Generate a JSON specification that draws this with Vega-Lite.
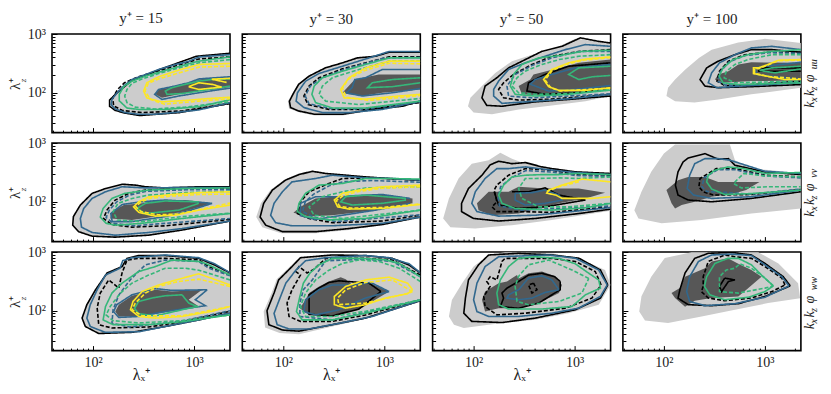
{"$schema":"https://vega.github.io/schema/vega-lite/v6.json","padding":{"left":6,"top":10,"right":0,"bottom":0},"background":"white","config":{"view":{"stroke":"black","strokeWidth":1.6},"axis":{"grid":false,"domain":false,"labelFont":"Liberation Serif","titleFont":"Liberation Serif","labelFontSize":14,"titleFontSize":15,"titleFontWeight":"normal","labelColor":"#222","titleColor":"#222","tickColor":"black","labelOverlap":false,"labelBound":false,"labelFlush":false,"tickCount":10},"title":{"font":"Liberation Serif","fontSize":15,"fontWeight":"normal","color":"#222"},"text":{"font":"Liberation Serif","fontStyle":"italic","color":"#222"}},
"datasets":{
"Z":[{"t":"z","x":20.5,"y":161}],
"RU":[{"t":"k","b":"m","x":2790,"y":63},{"t":"x","b":"s","x":3060,"y":77},{"t":"k","b":"m","x":2790,"y":100},{"t":"z","b":"s","x":3060,"y":118},{"t":"φ","b":"m","x":2790,"y":175},{"t":"uu","b":"s","x":3060,"y":306}],
"RV":[{"t":"k","b":"m","x":2790,"y":63},{"t":"x","b":"s","x":3060,"y":77},{"t":"k","b":"m","x":2790,"y":100},{"t":"z","b":"s","x":3060,"y":118},{"t":"φ","b":"m","x":2790,"y":175},{"t":"vv","b":"s","x":3060,"y":306}],
"RW":[{"t":"k","b":"m","x":2790,"y":55},{"t":"x","b":"s","x":3060,"y":66},{"t":"k","b":"m","x":2790,"y":87},{"t":"z","b":"s","x":3060,"y":103},{"t":"φ","b":"m","x":2790,"y":155},{"t":"ww","b":"s","x":3060,"y":290}],
"P11":[{"s":"L","x":2270,"y":447},{"s":"L","x":1115,"y":407},{"s":"L","x":886,"y":343},{"s":"L","x":654,"y":302},{"s":"L","x":447,"y":249},{"s":"L","x":330,"y":204},{"s":"L","x":243,"y":168},{"s":"L","x":201,"y":130},{"s":"L","x":173,"y":100},{"s":"L","x":154,"y":77},{"s":"L","x":151,"y":63},{"s":"L","x":166,"y":53},{"s":"L","x":209,"y":46},{"s":"L","x":283,"y":43},{"s":"L","x":414,"y":43},{"s":"L","x":706,"y":47},{"s":"L","x":1115,"y":51},{"s":"L","x":2270,"y":68},
{"s":"D","x":2270,"y":180},{"s":"D","x":1760,"y":180},{"s":"D","x":1200,"y":172},{"s":"D","x":885,"y":148},{"s":"D","x":652,"y":127},{"s":"D","x":447,"y":114},{"s":"D","x":415,"y":94},{"s":"D","x":481,"y":82},{"s":"D","x":705,"y":94},{"s":"D","x":1115,"y":107},{"s":"D","x":1760,"y":116},{"s":"D","x":2270,"y":125},
{"s":"K","x":2270,"y":470},{"s":"K","x":1055,"y":418},{"s":"K","x":457,"y":249},{"s":"K","x":240,"y":160},{"s":"K","x":170,"y":97},{"s":"K","x":146,"y":75},{"s":"K","x":146,"y":59},{"s":"K","x":166,"y":50},{"s":"K","x":209,"y":45},{"s":"K","x":290,"y":41},{"s":"K","x":720,"y":46},{"s":"K","x":2270,"y":66},
{"s":"k","x":2270,"y":408},{"s":"k","x":1115,"y":375},{"s":"k","x":520,"y":255},{"s":"k","x":280,"y":187},{"s":"k","x":205,"y":148},{"s":"k","x":175,"y":114},{"s":"k","x":157,"y":82},{"s":"k","x":160,"y":60},{"s":"k","x":195,"y":50},{"s":"k","x":305,"y":46},{"s":"k","x":760,"y":49},{"s":"k","x":2270,"y":66},
{"s":"B","x":2270,"y":447},{"s":"B","x":1115,"y":407},{"s":"B","x":886,"y":343},{"s":"B","x":654,"y":302},{"s":"B","x":447,"y":249},{"s":"B","x":330,"y":204},{"s":"B","x":243,"y":168},{"s":"B","x":201,"y":130},{"s":"B","x":173,"y":100},{"s":"B","x":154,"y":77},{"s":"B","x":151,"y":63},{"s":"B","x":166,"y":53},{"s":"B","x":209,"y":46},{"s":"B","x":283,"y":43},{"s":"B","x":414,"y":43},{"s":"B","x":706,"y":47},{"s":"B","x":1115,"y":51},{"s":"B","x":2270,"y":68},
{"s":"B","p":2,"x":2270,"y":187},{"s":"B","p":2,"x":1600,"y":180},{"s":"B","p":2,"x":1115,"y":172},{"s":"B","p":2,"x":885,"y":148},{"s":"B","p":2,"x":605,"y":127},{"s":"B","p":2,"x":447,"y":114},{"s":"B","p":2,"x":408,"y":94},{"s":"B","p":2,"x":481,"y":77},{"s":"B","p":2,"x":705,"y":88},{"s":"B","p":2,"x":1115,"y":100},{"s":"B","p":2,"x":1600,"y":110},{"s":"B","p":2,"x":2270,"y":120},
{"s":"G","x":2270,"y":408},{"s":"G","x":1115,"y":345},{"s":"G","x":820,"y":300},{"s":"G","x":520,"y":240},{"s":"G","x":330,"y":192},{"s":"G","x":243,"y":158},{"s":"G","x":201,"y":127},{"s":"G","x":182,"y":94},{"s":"G","x":182,"y":73},{"s":"G","x":217,"y":55},{"s":"G","x":285,"y":52},{"s":"G","x":520,"y":52},{"s":"G","x":1115,"y":58},{"s":"G","x":2270,"y":76},
{"s":"G","p":2,"x":2270,"y":172},{"s":"G","p":2,"x":1510,"y":168},{"s":"G","p":2,"x":1115,"y":158},{"s":"G","p":2,"x":820,"y":139},{"s":"G","p":2,"x":605,"y":122},{"s":"G","p":2,"x":520,"y":107},{"s":"G","p":2,"x":540,"y":94},{"s":"G","p":2,"x":760,"y":97},{"s":"G","p":2,"x":1115,"y":107},{"s":"G","p":2,"x":1800,"y":122},{"s":"G","p":2,"x":2270,"y":130},
{"s":"g","x":2270,"y":367},{"s":"g","x":1115,"y":323},{"s":"g","x":705,"y":265},{"s":"g","x":447,"y":212},{"s":"g","x":306,"y":172},{"s":"g","x":243,"y":145},{"s":"g","x":217,"y":114},{"s":"g","x":206,"y":88},{"s":"g","x":217,"y":68},{"s":"g","x":262,"y":57},{"s":"g","x":415,"y":53},{"s":"g","x":820,"y":57},{"s":"g","x":2270,"y":70},
{"s":"Y","x":2270,"y":315},{"s":"Y","x":1115,"y":303},{"s":"Y","x":705,"y":243},{"s":"Y","x":447,"y":187},{"s":"Y","x":341,"y":148},{"s":"Y","x":317,"y":107},{"s":"Y","x":341,"y":82},{"s":"Y","x":481,"y":70},{"s":"Y","x":820,"y":74},{"s":"Y","x":1300,"y":79},{"s":"Y","x":2270,"y":84},
{"s":"Y","p":2,"x":885,"y":127},{"s":"Y","p":2,"x":1115,"y":148},{"s":"Y","p":2,"x":1510,"y":139},{"s":"Y","p":2,"x":1880,"y":125},{"s":"Y","p":2,"x":1115,"y":114},{"s":"Y","p":2,"x":885,"y":127},
{"s":"Y","p":3,"x":2270,"y":176},{"s":"Y","p":3,"x":1500,"y":170},{"s":"Y","p":3,"x":2100,"y":150},
{"s":"y","x":2270,"y":283},{"s":"y","x":1115,"y":273},{"s":"y","x":447,"y":172},{"s":"y","x":353,"y":145},{"s":"y","x":327,"y":107},{"s":"y","x":370,"y":77},{"s":"y","x":510,"y":64},{"s":"y","x":1115,"y":72},{"s":"y","x":2270,"y":79}],
"P12":[{"s":"L","x":2270,"y":495},{"s":"L","x":1115,"y":495},{"s":"L","x":820,"y":422},{"s":"L","x":540,"y":396},{"s":"L","x":385,"y":327},{"s":"L","x":262,"y":270},{"s":"L","x":178,"y":195},{"s":"L","x":140,"y":141},{"s":"L","x":124,"y":100},{"s":"L","x":111,"y":71},{"s":"L","x":114,"y":54},{"s":"L","x":140,"y":47},{"s":"L","x":205,"y":41},{"s":"L","x":385,"y":41},{"s":"L","x":820,"y":51},{"s":"L","x":1510,"y":58},{"s":"L","x":2270,"y":71},
{"s":"D","x":2270,"y":204},{"s":"D","x":1400,"y":204},{"s":"D","x":880,"y":204},{"s":"D","x":510,"y":168},{"s":"D","x":385,"y":100},{"s":"D","x":447,"y":94},{"s":"D","x":605,"y":88},{"s":"D","x":955,"y":100},{"s":"D","x":2270,"y":114},
{"s":"K","x":2270,"y":490},{"s":"K","x":1115,"y":490},{"s":"K","x":820,"y":418},{"s":"K","x":540,"y":392},{"s":"K","x":385,"y":323},{"s":"K","x":262,"y":266},{"s":"K","x":180,"y":192},{"s":"K","x":142,"y":139},{"s":"K","x":127,"y":100},{"s":"K","x":115,"y":72},{"s":"K","x":118,"y":56},{"s":"K","x":142,"y":49},{"s":"K","x":205,"y":43},{"s":"K","x":385,"y":43},{"s":"K","x":820,"y":53},{"s":"K","x":1510,"y":59},{"s":"K","x":2270,"y":72},
{"s":"k","x":2270,"y":408},{"s":"k","x":1115,"y":408},{"s":"k","x":652,"y":323},{"s":"k","x":385,"y":255},{"s":"k","x":226,"y":180},{"s":"k","x":180,"y":130},{"s":"k","x":160,"y":88},{"s":"k","x":176,"y":63},{"s":"k","x":284,"y":52},{"s":"k","x":652,"y":52},{"s":"k","x":2270,"y":68},
{"s":"B","x":2270,"y":505},{"s":"B","x":1115,"y":505},{"s":"B","x":760,"y":408},{"s":"B","x":385,"y":283},{"s":"B","x":226,"y":213},{"s":"B","x":166,"y":157},{"s":"B","x":138,"y":100},{"s":"B","x":134,"y":72},{"s":"B","x":160,"y":56},{"s":"B","x":244,"y":46},{"s":"B","x":447,"y":46},{"s":"B","x":955,"y":52},{"s":"B","x":2270,"y":72},
{"s":"B","p":2,"x":2270,"y":249},{"s":"B","p":2,"x":955,"y":249},{"s":"B","p":2,"x":652,"y":180},{"s":"B","p":2,"x":510,"y":168},{"s":"B","p":2,"x":480,"y":122},{"s":"B","p":2,"x":420,"y":100},{"s":"B","p":2,"x":605,"y":88},{"s":"B","p":2,"x":1200,"y":100},{"s":"B","p":2,"x":2270,"y":118},
{"s":"b","x":2270,"y":400},{"s":"b","x":1000,"y":390},{"s":"b","x":400,"y":250},{"s":"b","x":240,"y":178},{"s":"b","x":185,"y":130},{"s":"b","x":165,"y":88},{"s":"b","x":180,"y":65},{"s":"b","x":290,"y":54},{"s":"b","x":660,"y":53},{"s":"b","x":2270,"y":70},
{"s":"G","x":2270,"y":392},{"s":"G","x":1115,"y":392},{"s":"G","x":652,"y":303},{"s":"G","x":385,"y":233},{"s":"G","x":244,"y":180},{"s":"G","x":202,"y":130},{"s":"G","x":192,"y":94},{"s":"G","x":209,"y":68},{"s":"G","x":307,"y":55},{"s":"G","x":652,"y":55},{"s":"G","x":2270,"y":72},
{"s":"G","p":2,"x":2270,"y":180},{"s":"G","p":2,"x":1200,"y":168},{"s":"G","p":2,"x":760,"y":148},{"s":"G","p":2,"x":680,"y":122},{"s":"G","p":2,"x":1200,"y":127},{"s":"G","p":2,"x":2270,"y":148},
{"s":"g","x":2270,"y":345},{"s":"g","x":1115,"y":345},{"s":"g","x":560,"y":249},{"s":"g","x":306,"y":180},{"s":"g","x":244,"y":130},{"s":"g","x":226,"y":94},{"s":"g","x":263,"y":72},{"s":"g","x":560,"y":63},{"s":"g","x":2270,"y":80},
{"s":"Y","x":2270,"y":345},{"s":"Y","x":1115,"y":345},{"s":"Y","x":652,"y":265},{"s":"Y","x":447,"y":180},{"s":"Y","x":370,"y":114},{"s":"Y","x":400,"y":82},{"s":"Y","x":652,"y":78},{"s":"Y","x":1400,"y":88},{"s":"Y","x":2270,"y":94},
{"s":"y","x":2270,"y":310},{"s":"y","x":1115,"y":318},{"s":"y","x":620,"y":235},{"s":"y","x":440,"y":170},{"s":"y","x":385,"y":120},{"s":"y","x":420,"y":84},{"s":"y","x":700,"y":74},{"s":"y","x":2270,"y":90}],
"P13":[{"s":"L","x":2270,"y":702},{"s":"L","x":1015,"y":830},{"s":"L","x":595,"y":542},{"s":"L","x":378,"y":445},{"s":"L","x":240,"y":345},{"s":"L","x":164,"y":218},{"s":"L","x":121,"y":130},{"s":"L","x":93,"y":82},{"s":"L","x":88,"y":59},{"s":"L","x":100,"y":46},{"s":"L","x":152,"y":43},{"s":"L","x":279,"y":52},{"s":"L","x":595,"y":61},{"s":"L","x":1280,"y":72},{"s":"L","x":2270,"y":88},
{"s":"D","x":2270,"y":367},{"s":"D","x":1100,"y":323},{"s":"D","x":700,"y":265},{"s":"D","x":392,"y":205},{"s":"D","x":364,"y":168},{"s":"D","x":279,"y":130},{"s":"D","x":301,"y":94},{"s":"D","x":595,"y":88},{"s":"D","x":1280,"y":100},{"s":"D","x":2270,"y":122},
{"s":"K","x":2270,"y":702},{"s":"K","x":1730,"y":750},{"s":"K","x":1140,"y":860},{"s":"K","x":750,"y":617},{"s":"K","x":475,"y":508},{"s":"K","x":325,"y":367},{"s":"K","x":222,"y":265},{"s":"K","x":170,"y":180},{"s":"K","x":130,"y":130},{"s":"K","x":121,"y":82},{"s":"K","x":135,"y":61},{"s":"K","x":191,"y":59},{"s":"K","x":408,"y":70},{"s":"K","x":873,"y":77},{"s":"K","x":2270,"y":88},
{"s":"K","p":2,"x":2270,"y":323},{"s":"K","p":2,"x":873,"y":283},{"s":"K","p":2,"x":510,"y":205},{"s":"K","p":2,"x":350,"y":148},{"s":"K","p":2,"x":337,"y":107},{"s":"K","p":2,"x":510,"y":94},{"s":"K","p":2,"x":1100,"y":100},{"s":"K","p":2,"x":2270,"y":122},
{"s":"k","x":2270,"y":542},{"s":"k","x":1100,"y":505},{"s":"k","x":595,"y":418},{"s":"k","x":378,"y":303},{"s":"k","x":249,"y":205},{"s":"k","x":198,"y":148},{"s":"k","x":177,"y":114},{"s":"k","x":198,"y":82},{"s":"k","x":279,"y":75},{"s":"k","x":595,"y":78},{"s":"k","x":2270,"y":94},
{"s":"B","x":2270,"y":617},{"s":"B","x":1280,"y":660},{"s":"B","x":808,"y":542},{"s":"B","x":510,"y":418},{"s":"B","x":325,"y":323},{"s":"B","x":222,"y":249},{"s":"B","x":177,"y":158},{"s":"B","x":158,"y":114},{"s":"B","x":158,"y":88},{"s":"B","x":191,"y":66},{"s":"B","x":408,"y":72},{"s":"B","x":873,"y":79},{"s":"B","x":2270,"y":94},
{"s":"B","p":2,"x":2270,"y":303},{"s":"B","p":2,"x":1015,"y":265},{"s":"B","p":2,"x":595,"y":205},{"s":"B","p":2,"x":408,"y":168},{"s":"B","p":2,"x":364,"y":140},{"s":"B","p":2,"x":553,"y":107},{"s":"B","p":2,"x":1015,"y":114},{"s":"B","p":2,"x":2270,"y":133},
{"s":"b","x":2270,"y":505},{"s":"b","x":1100,"y":505},{"s":"b","x":595,"y":392},{"s":"b","x":378,"y":290},{"s":"b","x":258,"y":205},{"s":"b","x":214,"y":130},{"s":"b","x":222,"y":88},{"s":"b","x":378,"y":82},{"s":"b","x":2270,"y":96},
{"s":"G","x":2270,"y":530},{"s":"G","x":1180,"y":505},{"s":"G","x":700,"y":428},{"s":"G","x":440,"y":392},{"s":"G","x":301,"y":303},{"s":"G","x":249,"y":205},{"s":"G","x":231,"y":130},{"s":"G","x":258,"y":94},{"s":"G","x":408,"y":88},{"s":"G","x":873,"y":94},{"s":"G","x":2270,"y":111},
{"s":"G","p":2,"x":2270,"y":283},{"s":"G","p":2,"x":1100,"y":265},{"s":"G","p":2,"x":873,"y":205},{"s":"G","p":2,"x":1100,"y":168},{"s":"G","p":2,"x":1490,"y":187},{"s":"G","p":2,"x":2270,"y":197},
{"s":"g","x":2270,"y":445},{"s":"g","x":1100,"y":418},{"s":"g","x":700,"y":367},{"s":"g","x":475,"y":303},{"s":"g","x":325,"y":233},{"s":"g","x":269,"y":180},{"s":"g","x":240,"y":130},{"s":"g","x":279,"y":100},{"s":"g","x":408,"y":94},{"s":"g","x":873,"y":97},{"s":"g","x":2270,"y":117},
{"s":"Y","x":2270,"y":408},{"s":"Y","x":1280,"y":375},{"s":"Y","x":873,"y":323},{"s":"Y","x":595,"y":249},{"s":"Y","x":493,"y":168},{"s":"Y","x":553,"y":127},{"s":"Y","x":700,"y":110},{"s":"Y","x":1280,"y":110},{"s":"Y","x":2270,"y":122},
{"s":"y","x":2270,"y":395},{"s":"y","x":1250,"y":360},{"s":"y","x":860,"y":310},{"s":"y","x":600,"y":240},{"s":"y","x":510,"y":165},{"s":"y","x":580,"y":122},{"s":"y","x":720,"y":107},{"s":"y","x":2270,"y":120}],
"P14":[{"s":"L","x":2270,"y":702},{"s":"L","x":1000,"y":830},{"s":"L","x":545,"y":720},{"s":"L","x":297,"y":542},{"s":"L","x":222,"y":392},{"s":"L","x":163,"y":249},{"s":"L","x":129,"y":168},{"s":"L","x":110,"y":122},{"s":"L","x":106,"y":88},{"s":"L","x":129,"y":72},{"s":"L","x":201,"y":68},{"s":"L","x":345,"y":77},{"s":"L","x":735,"y":94},{"s":"L","x":2270,"y":122},
{"s":"D","x":2270,"y":323},{"s":"D","x":735,"y":330},{"s":"D","x":545,"y":303},{"s":"D","x":435,"y":233},{"s":"D","x":345,"y":205},{"s":"D","x":320,"y":168},{"s":"D","x":385,"y":148},{"s":"D","x":735,"y":158},{"s":"D","x":2270,"y":162},
{"s":"K","x":2270,"y":490},{"s":"K","x":1170,"y":542},{"s":"K","x":735,"y":542},{"s":"K","x":505,"y":445},{"s":"K","x":345,"y":345},{"s":"K","x":265,"y":265},{"s":"K","x":228,"y":168},{"s":"K","x":255,"y":130},{"s":"K","x":345,"y":122},{"s":"K","x":735,"y":127},{"s":"K","x":2270,"y":138},
{"s":"K","p":2,"x":2270,"y":265},{"s":"K","p":2,"x":1000,"y":265},{"s":"K","p":2,"x":860,"y":233},{"s":"K","p":2,"x":2270,"y":233},
{"s":"k","x":2270,"y":490},{"s":"k","x":1075,"y":490},{"s":"k","x":635,"y":445},{"s":"k","x":435,"y":345},{"s":"k","x":355,"y":233},{"s":"k","x":335,"y":158},{"s":"k","x":402,"y":133},{"s":"k","x":735,"y":138},{"s":"k","x":2270,"y":158},
{"s":"B","x":2270,"y":542},{"s":"B","x":1170,"y":617},{"s":"B","x":735,"y":580},{"s":"B","x":505,"y":445},{"s":"B","x":355,"y":323},{"s":"B","x":297,"y":218},{"s":"B","x":275,"y":148},{"s":"B","x":335,"y":122},{"s":"B","x":735,"y":133},{"s":"B","x":2270,"y":148},
{"s":"B","p":2,"x":2270,"y":330},{"s":"B","p":2,"x":1000,"y":283},{"s":"B","p":2,"x":800,"y":265},{"s":"B","p":2,"x":830,"y":205},{"s":"B","p":2,"x":2270,"y":168},
{"s":"b","x":2270,"y":470},{"s":"b","x":1075,"y":480},{"s":"b","x":640,"y":430},{"s":"b","x":440,"y":335},{"s":"b","x":360,"y":225},{"s":"b","x":345,"y":155},{"s":"b","x":410,"y":135},{"s":"b","x":735,"y":135},{"s":"b","x":2270,"y":160},
{"s":"G","x":2270,"y":542},{"s":"G","x":1170,"y":505},{"s":"G","x":680,"y":445},{"s":"G","x":485,"y":367},{"s":"G","x":385,"y":265},{"s":"G","x":352,"y":192},{"s":"G","x":385,"y":148},{"s":"G","x":545,"y":138},{"s":"G","x":2270,"y":148},
{"s":"G","p":2,"x":2270,"y":283},{"s":"G","p":2,"x":1170,"y":265},{"s":"G","p":2,"x":885,"y":240},{"s":"G","p":2,"x":1260,"y":218},{"s":"G","p":2,"x":2270,"y":255},
{"s":"g","x":2270,"y":445},{"s":"g","x":1170,"y":445},{"s":"g","x":680,"y":367},{"s":"g","x":505,"y":303},{"s":"g","x":415,"y":233},{"s":"g","x":395,"y":180},{"s":"g","x":505,"y":148},{"s":"g","x":2270,"y":158},
{"s":"Y","x":2270,"y":367},{"s":"Y","x":1360,"y":358},{"s":"Y","x":1075,"y":303},{"s":"Y","x":860,"y":265},{"s":"Y","x":770,"y":265},{"s":"Y","x":770,"y":212},{"s":"Y","x":1040,"y":192},{"s":"Y","x":1570,"y":168},{"s":"Y","x":2270,"y":168},
{"s":"y","x":2270,"y":360},{"s":"y","x":1360,"y":350},{"s":"y","x":1060,"y":295},{"s":"y","x":880,"y":260},{"s":"y","x":790,"y":255},{"s":"y","x":790,"y":215},{"s":"y","x":1060,"y":190},{"s":"y","x":2270,"y":172}],
"P21":[{"s":"L","x":2270,"y":180},{"s":"L","x":1115,"y":180},{"s":"L","x":520,"y":172},{"s":"L","x":330,"y":180},{"s":"L","x":263,"y":192},{"s":"L","x":194,"y":199},{"s":"L","x":133,"y":168},{"s":"L","x":98,"y":139},{"s":"L","x":75,"y":88},{"s":"L","x":64,"y":56},{"s":"L","x":63,"y":40},{"s":"L","x":72,"y":31},{"s":"L","x":98,"y":26},{"s":"L","x":166,"y":25},{"s":"L","x":355,"y":27},{"s":"L","x":762,"y":33},{"s":"L","x":2270,"y":47},
{"s":"D","x":1510,"y":94},{"s":"D","x":820,"y":107},{"s":"D","x":447,"y":107},{"s":"D","x":306,"y":94},{"s":"D","x":202,"y":88},{"s":"D","x":154,"y":68},{"s":"D","x":148,"y":52},{"s":"D","x":243,"y":49},{"s":"D","x":520,"y":59},{"s":"D","x":885,"y":72},{"s":"D","x":1510,"y":94},
{"s":"K","x":2270,"y":180},{"s":"K","x":1115,"y":180},{"s":"K","x":520,"y":172},{"s":"K","x":330,"y":180},{"s":"K","x":263,"y":192},{"s":"K","x":194,"y":199},{"s":"K","x":133,"y":168},{"s":"K","x":98,"y":139},{"s":"K","x":75,"y":88},{"s":"K","x":64,"y":56},{"s":"K","x":63,"y":40},{"s":"K","x":72,"y":31},{"s":"K","x":98,"y":26},{"s":"K","x":166,"y":25},{"s":"K","x":355,"y":27},{"s":"K","x":762,"y":33},{"s":"K","x":2270,"y":47},
{"s":"k","x":2270,"y":168},{"s":"k","x":820,"y":168},{"s":"k","x":330,"y":158},{"s":"k","x":226,"y":139},{"s":"k","x":166,"y":107},{"s":"k","x":138,"y":73},{"s":"k","x":127,"y":52},{"s":"k","x":154,"y":41},{"s":"k","x":243,"y":37},{"s":"k","x":520,"y":39},{"s":"k","x":2270,"y":50},
{"s":"B","x":2270,"y":175},{"s":"B","x":820,"y":175},{"s":"B","x":330,"y":172},{"s":"B","x":194,"y":180},{"s":"B","x":133,"y":148},{"s":"B","x":98,"y":114},{"s":"B","x":81,"y":77},{"s":"B","x":75,"y":52},{"s":"B","x":77,"y":37},{"s":"B","x":98,"y":30},{"s":"B","x":166,"y":27},{"s":"B","x":355,"y":30},{"s":"B","x":762,"y":35},{"s":"B","x":2270,"y":47},
{"s":"B","p":2,"x":1510,"y":94},{"s":"B","p":2,"x":1000,"y":100},{"s":"B","p":2,"x":520,"y":107},{"s":"B","p":2,"x":300,"y":100},{"s":"B","p":2,"x":195,"y":90},{"s":"B","p":2,"x":150,"y":63},{"s":"B","p":2,"x":155,"y":46},{"s":"B","p":2,"x":243,"y":46},{"s":"B","p":2,"x":520,"y":56},{"s":"B","p":2,"x":885,"y":70},{"s":"B","p":2,"x":1510,"y":94},
{"s":"b","x":2270,"y":160},{"s":"b","x":820,"y":160},{"s":"b","x":330,"y":150},{"s":"b","x":230,"y":130},{"s":"b","x":172,"y":100},{"s":"b","x":145,"y":72},{"s":"b","x":135,"y":54},{"s":"b","x":158,"y":43},{"s":"b","x":250,"y":39},{"s":"b","x":2270,"y":52},
{"s":"G","x":2270,"y":172},{"s":"G","x":820,"y":168},{"s":"G","x":355,"y":158},{"s":"G","x":207,"y":139},{"s":"G","x":154,"y":114},{"s":"G","x":126,"y":77},{"s":"G","x":118,"y":55},{"s":"G","x":135,"y":43},{"s":"G","x":166,"y":40},{"s":"G","x":307,"y":43},{"s":"G","x":762,"y":52},{"s":"G","x":2270,"y":63},
{"s":"G","p":2,"x":1115,"y":100},{"s":"G","p":2,"x":520,"y":103},{"s":"G","p":2,"x":330,"y":94},{"s":"G","p":2,"x":273,"y":77},{"s":"G","p":2,"x":330,"y":63},{"s":"G","p":2,"x":705,"y":72},{"s":"G","p":2,"x":1115,"y":94},
{"s":"g","x":2270,"y":150},{"s":"g","x":820,"y":143},{"s":"g","x":355,"y":130},{"s":"g","x":244,"y":114},{"s":"g","x":177,"y":94},{"s":"g","x":158,"y":68},{"s":"g","x":174,"y":49},{"s":"g","x":307,"y":46},{"s":"g","x":762,"y":56},{"s":"g","x":2270,"y":64},
{"s":"Y","x":2270,"y":148},{"s":"Y","x":1115,"y":143},{"s":"Y","x":605,"y":133},{"s":"Y","x":355,"y":121},{"s":"Y","x":284,"y":100},{"s":"Y","x":252,"y":82},{"s":"Y","x":284,"y":66},{"s":"Y","x":414,"y":57},{"s":"Y","x":652,"y":59},{"s":"Y","x":1115,"y":72},{"s":"Y","x":2270,"y":88},
{"s":"y","x":2270,"y":135},{"s":"y","x":1100,"y":133},{"s":"y","x":605,"y":125},{"s":"y","x":370,"y":115},{"s":"y","x":300,"y":100},{"s":"y","x":265,"y":82},{"s":"y","x":300,"y":68},{"s":"y","x":440,"y":60},{"s":"y","x":700,"y":62},{"s":"y","x":2270,"y":95}],
"P22":[{"s":"L","x":2270,"y":235},{"s":"L","x":1115,"y":252},{"s":"L","x":652,"y":268},{"s":"L","x":355,"y":295},{"s":"L","x":263,"y":310},{"s":"L","x":190,"y":340},{"s":"L","x":140,"y":300},{"s":"L","x":103,"y":240},{"s":"L","x":75,"y":160},{"s":"L","x":60,"y":94},{"s":"L","x":54,"y":55},{"s":"L","x":62,"y":37},{"s":"L","x":95,"y":29},{"s":"L","x":209,"y":29},{"s":"L","x":447,"y":33},{"s":"L","x":955,"y":40},{"s":"L","x":2270,"y":54},
{"s":"D","x":1900,"y":114},{"s":"D","x":955,"y":133},{"s":"D","x":560,"y":130},{"s":"D","x":306,"y":122},{"s":"D","x":209,"y":114},{"s":"D","x":148,"y":82},{"s":"D","x":126,"y":65},{"s":"D","x":180,"y":56},{"s":"D","x":306,"y":59},{"s":"D","x":820,"y":72},{"s":"D","x":1900,"y":94},
{"s":"K","x":2270,"y":233},{"s":"K","x":1115,"y":249},{"s":"K","x":652,"y":265},{"s":"K","x":355,"y":290},{"s":"K","x":263,"y":303},{"s":"K","x":194,"y":330},{"s":"K","x":143,"y":290},{"s":"K","x":105,"y":233},{"s":"K","x":78,"y":158},{"s":"K","x":64,"y":94},{"s":"K","x":59,"y":55},{"s":"K","x":67,"y":40},{"s":"K","x":98,"y":31},{"s":"K","x":209,"y":31},{"s":"K","x":447,"y":35},{"s":"K","x":955,"y":41},{"s":"K","x":2270,"y":55},
{"s":"k","x":2270,"y":233},{"s":"k","x":760,"y":255},{"s":"k","x":385,"y":249},{"s":"k","x":283,"y":205},{"s":"k","x":180,"y":148},{"s":"k","x":148,"y":100},{"s":"k","x":138,"y":63},{"s":"k","x":180,"y":52},{"s":"k","x":306,"y":44},{"s":"k","x":955,"y":47},{"s":"k","x":2270,"y":59},
{"s":"B","x":2270,"y":233},{"s":"B","x":1200,"y":249},{"s":"B","x":652,"y":255},{"s":"B","x":306,"y":283},{"s":"B","x":209,"y":249},{"s":"B","x":122,"y":218},{"s":"B","x":98,"y":148},{"s":"B","x":81,"y":94},{"s":"B","x":75,"y":59},{"s":"B","x":84,"y":44},{"s":"B","x":122,"y":39},{"s":"B","x":306,"y":39},{"s":"B","x":955,"y":43},{"s":"B","x":2270,"y":55},
{"s":"B","p":2,"x":1800,"y":114},{"s":"B","p":2,"x":955,"y":133},{"s":"B","p":2,"x":510,"y":127},{"s":"B","p":2,"x":385,"y":122},{"s":"B","p":2,"x":260,"y":122},{"s":"B","p":2,"x":209,"y":122},{"s":"B","p":2,"x":148,"y":94},{"s":"B","p":2,"x":148,"y":58},{"s":"B","p":2,"x":209,"y":50},{"s":"B","p":2,"x":385,"y":59},{"s":"B","p":2,"x":820,"y":72},{"s":"B","p":2,"x":1800,"y":94},
{"s":"b","x":2270,"y":215},{"s":"b","x":760,"y":230},{"s":"b","x":400,"y":220},{"s":"b","x":290,"y":190},{"s":"b","x":200,"y":135},{"s":"b","x":165,"y":100},{"s":"b","x":155,"y":68},{"s":"b","x":200,"y":55},{"s":"b","x":330,"y":46},{"s":"b","x":2270,"y":60},
{"s":"G","x":2270,"y":243},{"s":"G","x":1115,"y":249},{"s":"G","x":652,"y":249},{"s":"G","x":385,"y":205},{"s":"G","x":226,"y":192},{"s":"G","x":166,"y":139},{"s":"G","x":143,"y":94},{"s":"G","x":138,"y":68},{"s":"G","x":166,"y":56},{"s":"G","x":284,"y":49},{"s":"G","x":652,"y":52},{"s":"G","x":2270,"y":72},
{"s":"G","p":2,"x":1640,"y":114},{"s":"G","p":2,"x":652,"y":130},{"s":"G","p":2,"x":415,"y":122},{"s":"G","p":2,"x":370,"y":100},{"s":"G","p":2,"x":480,"y":88},{"s":"G","p":2,"x":955,"y":94},{"s":"G","p":2,"x":1640,"y":107},
{"s":"g","x":2270,"y":180},{"s":"g","x":652,"y":172},{"s":"g","x":385,"y":148},{"s":"g","x":244,"y":122},{"s":"g","x":180,"y":82},{"s":"g","x":202,"y":59},{"s":"g","x":385,"y":52},{"s":"g","x":2270,"y":72},
{"s":"Y","x":2270,"y":192},{"s":"Y","x":955,"y":180},{"s":"Y","x":560,"y":158},{"s":"Y","x":385,"y":139},{"s":"Y","x":320,"y":107},{"s":"Y","x":345,"y":82},{"s":"Y","x":447,"y":75},{"s":"Y","x":955,"y":77},{"s":"Y","x":2270,"y":90},
{"s":"y","x":2270,"y":180},{"s":"y","x":955,"y":170},{"s":"y","x":560,"y":150},{"s":"y","x":400,"y":130},{"s":"y","x":335,"y":105},{"s":"y","x":360,"y":84},{"s":"y","x":470,"y":78},{"s":"y","x":955,"y":80},{"s":"y","x":2270,"y":92}],
"P23":[{"s":"L","x":2270,"y":303},{"s":"L","x":1015,"y":330},{"s":"L","x":510,"y":392},{"s":"L","x":325,"y":445},{"s":"L","x":240,"y":542},{"s":"L","x":184,"y":680},{"s":"L","x":141,"y":510},{"s":"L","x":96,"y":445},{"s":"L","x":71,"y":249},{"s":"L","x":57,"y":114},{"s":"L","x":50,"y":52},{"s":"L","x":59,"y":37},{"s":"L","x":104,"y":35},{"s":"L","x":240,"y":40},{"s":"L","x":595,"y":49},{"s":"L","x":2270,"y":70},
{"s":"D","x":108,"y":94},{"s":"D","x":141,"y":148},{"s":"D","x":222,"y":148},{"s":"D","x":279,"y":180},{"s":"D","x":510,"y":168},{"s":"D","x":1100,"y":168},{"s":"D","x":2000,"y":143},{"s":"D","x":1280,"y":114},{"s":"D","x":700,"y":94},{"s":"D","x":279,"y":63},{"s":"D","x":152,"y":59},{"s":"D","x":112,"y":72},
{"s":"K","x":2270,"y":303},{"s":"K","x":1015,"y":323},{"s":"K","x":595,"y":367},{"s":"K","x":475,"y":392},{"s":"K","x":325,"y":465},{"s":"K","x":240,"y":445},{"s":"K","x":177,"y":490},{"s":"K","x":146,"y":425},{"s":"K","x":121,"y":283},{"s":"K","x":89,"y":168},{"s":"K","x":76,"y":94},{"s":"K","x":76,"y":68},{"s":"K","x":100,"y":52},{"s":"K","x":177,"y":47},{"s":"K","x":408,"y":52},{"s":"K","x":1100,"y":63},{"s":"K","x":2270,"y":75},
{"s":"K","p":2,"x":160,"y":148},{"s":"K","p":2,"x":177,"y":88},{"s":"K","p":2,"x":279,"y":77},{"s":"K","p":2,"x":510,"y":82},{"s":"K","p":2,"x":1280,"y":107},{"s":"K","p":2,"x":700,"y":130},{"s":"K","p":2,"x":510,"y":172},{"s":"K","p":2,"x":350,"y":148},{"s":"K","p":2,"x":240,"y":148},
{"s":"k","x":2270,"y":283},{"s":"k","x":1015,"y":290},{"s":"k","x":595,"y":345},{"s":"k","x":325,"y":367},{"s":"k","x":222,"y":283},{"s":"k","x":170,"y":192},{"s":"k","x":160,"y":158},{"s":"k","x":170,"y":100},{"s":"k","x":152,"y":82},{"s":"k","x":170,"y":68},{"s":"k","x":279,"y":68},{"s":"k","x":595,"y":66},{"s":"k","x":2270,"y":82},
{"s":"B","x":2270,"y":290},{"s":"B","x":1015,"y":315},{"s":"B","x":595,"y":345},{"s":"B","x":325,"y":392},{"s":"B","x":222,"y":367},{"s":"B","x":170,"y":367},{"s":"B","x":130,"y":249},{"s":"B","x":104,"y":148},{"s":"B","x":96,"y":94},{"s":"B","x":108,"y":68},{"s":"B","x":177,"y":57},{"s":"B","x":408,"y":59},{"s":"B","x":1100,"y":70},{"s":"B","x":2270,"y":80},
{"s":"B","p":2,"x":258,"y":139},{"s":"B","p":2,"x":378,"y":143},{"s":"B","p":2,"x":510,"y":158},{"s":"B","p":2,"x":700,"y":130},{"s":"B","p":2,"x":750,"y":107},{"s":"B","p":2,"x":510,"y":94},{"s":"B","p":2,"x":325,"y":88},{"s":"B","p":2,"x":258,"y":107},{"s":"B","p":2,"x":258,"y":139},
{"s":"b","x":2270,"y":270},{"s":"b","x":1015,"y":280},{"s":"b","x":595,"y":320},{"s":"b","x":330,"y":340},{"s":"b","x":240,"y":260},{"s":"b","x":185,"y":180},{"s":"b","x":175,"y":120},{"s":"b","x":180,"y":85},{"s":"b","x":300,"y":72},{"s":"b","x":2270,"y":85},
{"s":"G","x":2270,"y":290},{"s":"G","x":1015,"y":303},{"s":"G","x":700,"y":290},{"s":"G","x":475,"y":290},{"s":"G","x":325,"y":283},{"s":"G","x":240,"y":265},{"s":"G","x":198,"y":192},{"s":"G","x":177,"y":130},{"s":"G","x":191,"y":94},{"s":"G","x":258,"y":77},{"s":"G","x":595,"y":72},{"s":"G","x":1280,"y":79},{"s":"G","x":2270,"y":94},
{"s":"g","x":2270,"y":265},{"s":"g","x":1100,"y":249},{"s":"g","x":700,"y":255},{"s":"g","x":408,"y":249},{"s":"g","x":325,"y":249},{"s":"g","x":279,"y":168},{"s":"g","x":301,"y":114},{"s":"g","x":441,"y":82},{"s":"g","x":873,"y":82},{"s":"g","x":2270,"y":94},
{"s":"Y","x":2270,"y":218},{"s":"Y","x":1180,"y":243},{"s":"Y","x":750,"y":192},{"s":"Y","x":553,"y":158},{"s":"Y","x":530,"y":140},{"s":"Y","x":652,"y":130},{"s":"Y","x":750,"y":114},{"s":"Y","x":1490,"y":114},{"s":"Y","x":2270,"y":122},
{"s":"y","x":1100,"y":220},{"s":"y","x":700,"y":180},{"s":"y","x":530,"y":150}],
"P24":[{"s":"L","x":2270,"y":303},{"s":"L","x":1170,"y":345},{"s":"L","x":735,"y":367},{"s":"L","x":505,"y":510},{"s":"L","x":450,"y":940},{"s":"L","x":224,"y":940},{"s":"L","x":129,"y":940},{"s":"L","x":100,"y":660},{"s":"L","x":75,"y":323},{"s":"L","x":60,"y":148},{"s":"L","x":51,"y":72},{"s":"L","x":56,"y":52},{"s":"L","x":95,"y":43},{"s":"L","x":236,"y":49},{"s":"L","x":735,"y":63},{"s":"L","x":2270,"y":77},
{"s":"D","x":885,"y":218},{"s":"D","x":735,"y":180},{"s":"D","x":652,"y":158},{"s":"D","x":505,"y":139},{"s":"D","x":297,"y":122},{"s":"D","x":202,"y":100},{"s":"D","x":150,"y":88},{"s":"D","x":129,"y":77},{"s":"D","x":119,"y":94},{"s":"D","x":106,"y":158},{"s":"D","x":138,"y":233},{"s":"D","x":174,"y":265},{"s":"D","x":255,"y":265},{"s":"D","x":345,"y":218},
{"s":"K","x":2270,"y":290},{"s":"K","x":1000,"y":323},{"s":"K","x":505,"y":418},{"s":"K","x":435,"y":542},{"s":"K","x":345,"y":530},{"s":"K","x":255,"y":660},{"s":"K","x":174,"y":555},{"s":"K","x":155,"y":476},{"s":"K","x":138,"y":323},{"s":"K","x":130,"y":192},{"s":"K","x":138,"y":130},{"s":"K","x":174,"y":107},{"s":"K","x":297,"y":100},{"s":"K","x":735,"y":114},{"s":"K","x":2270,"y":148},
{"s":"k","x":2270,"y":265},{"s":"k","x":1000,"y":283},{"s":"k","x":505,"y":367},{"s":"k","x":330,"y":367},{"s":"k","x":275,"y":303},{"s":"k","x":228,"y":249},{"s":"k","x":222,"y":180},{"s":"k","x":245,"y":148},{"s":"k","x":307,"y":130},{"s":"k","x":735,"y":133},{"s":"k","x":2270,"y":162},
{"s":"B","x":2270,"y":303},{"s":"B","x":1000,"y":330},{"s":"B","x":450,"y":510},{"s":"B","x":345,"y":542},{"s":"B","x":255,"y":542},{"s":"B","x":202,"y":445},{"s":"B","x":180,"y":283},{"s":"B","x":170,"y":168},{"s":"B","x":197,"y":130},{"s":"B","x":297,"y":114},{"s":"B","x":735,"y":122},{"s":"B","x":2270,"y":158},
{"s":"b","x":2270,"y":255},{"s":"b","x":1000,"y":275},{"s":"b","x":505,"y":350},{"s":"b","x":340,"y":350},{"s":"b","x":250,"y":255},{"s":"b","x":238,"y":180},{"s":"b","x":265,"y":150},{"s":"b","x":735,"y":135},{"s":"b","x":2270,"y":165},
{"s":"G","x":2270,"y":315},{"s":"G","x":1000,"y":303},{"s":"G","x":620,"y":367},{"s":"G","x":430,"y":392},{"s":"G","x":320,"y":345},{"s":"G","x":275,"y":283},{"s":"G","x":265,"y":218},{"s":"G","x":297,"y":165},{"s":"G","x":400,"y":133},{"s":"G","x":735,"y":138},{"s":"G","x":2270,"y":158},
{"s":"g","x":2270,"y":265},{"s":"g","x":1000,"y":275},{"s":"g","x":620,"y":303},{"s":"g","x":545,"y":249},{"s":"g","x":490,"y":205},{"s":"g","x":585,"y":172},{"s":"g","x":1075,"y":180},{"s":"g","x":2270,"y":180}],
"P31":[{"s":"L","x":2270,"y":440},{"s":"L","x":1600,"y":600},{"s":"L","x":1115,"y":780},{"s":"L","x":520,"y":870},{"s":"L","x":283,"y":870},{"s":"L","x":217,"y":780},{"s":"L","x":194,"y":565},{"s":"L","x":138,"y":440},{"s":"L","x":106,"y":228},{"s":"L","x":87,"y":127},{"s":"L","x":78,"y":75},{"s":"L","x":84,"y":54},{"s":"L","x":114,"y":41},{"s":"L","x":244,"y":43},{"s":"L","x":520,"y":54},{"s":"L","x":1115,"y":70},{"s":"L","x":2270,"y":91},
{"s":"D","x":1200,"y":228},{"s":"D","x":605,"y":212},{"s":"D","x":415,"y":228},{"s":"D","x":243,"y":180},{"s":"D","x":180,"y":127},{"s":"D","x":166,"y":97},{"s":"D","x":180,"y":80},{"s":"D","x":262,"y":80},{"s":"D","x":447,"y":91},{"s":"D","x":1115,"y":118},{"s":"D","x":885,"y":154},{"s":"D","x":1200,"y":228},
{"s":"K","x":2270,"y":440},{"s":"K","x":1600,"y":600},{"s":"K","x":1115,"y":780},{"s":"K","x":520,"y":870},{"s":"K","x":283,"y":870},{"s":"K","x":217,"y":780},{"s":"K","x":194,"y":565},{"s":"K","x":138,"y":440},{"s":"K","x":106,"y":228},{"s":"K","x":87,"y":127},{"s":"K","x":78,"y":75},{"s":"K","x":84,"y":54},{"s":"K","x":114,"y":41},{"s":"K","x":244,"y":43},{"s":"K","x":520,"y":54},{"s":"K","x":1115,"y":70},{"s":"K","x":2270,"y":91},
{"s":"k","x":2270,"y":405},{"s":"k","x":1400,"y":565},{"s":"k","x":1115,"y":735},{"s":"k","x":520,"y":780},{"s":"k","x":283,"y":780},{"s":"k","x":217,"y":730},{"s":"k","x":194,"y":440},{"s":"k","x":180,"y":243},{"s":"k","x":143,"y":335},{"s":"k","x":133,"y":275},{"s":"k","x":118,"y":200},{"s":"k","x":110,"y":112},{"s":"k","x":114,"y":58},{"s":"k","x":154,"y":51},{"s":"k","x":355,"y":53},{"s":"k","x":760,"y":65},{"s":"k","x":2270,"y":98},
{"s":"B","x":2270,"y":445},{"s":"B","x":1600,"y":630},{"s":"B","x":1115,"y":800},{"s":"B","x":520,"y":890},{"s":"B","x":243,"y":800},{"s":"B","x":197,"y":710},{"s":"B","x":185,"y":530},{"s":"B","x":133,"y":405},{"s":"B","x":110,"y":228},{"s":"B","x":94,"y":127},{"s":"B","x":87,"y":75},{"s":"B","x":94,"y":54},{"s":"B","x":132,"y":43},{"s":"B","x":285,"y":44},{"s":"B","x":605,"y":57},{"s":"B","x":1115,"y":70},{"s":"B","x":2270,"y":91},
{"s":"B","p":2,"x":1350,"y":228},{"s":"B","p":2,"x":605,"y":222},{"s":"B","p":2,"x":415,"y":238},{"s":"B","p":2,"x":243,"y":187},{"s":"B","p":2,"x":172,"y":127},{"s":"B","p":2,"x":160,"y":97},{"s":"B","p":2,"x":180,"y":77},{"s":"B","p":2,"x":283,"y":80},{"s":"B","p":2,"x":520,"y":97},{"s":"B","p":2,"x":1300,"y":122},{"s":"B","p":2,"x":1030,"y":154},{"s":"B","p":2,"x":1350,"y":228},
{"s":"b","x":2270,"y":395},{"s":"b","x":1400,"y":530},{"s":"b","x":1115,"y":690},{"s":"b","x":520,"y":730},{"s":"b","x":330,"y":605},{"s":"b","x":283,"y":465},{"s":"b","x":233,"y":335},{"s":"b","x":180,"y":185},{"s":"b","x":158,"y":104},{"s":"b","x":154,"y":61},{"s":"b","x":232,"y":53},{"s":"b","x":760,"y":67},{"s":"b","x":2270,"y":100},
{"s":"G","x":2270,"y":405},{"s":"G","x":1300,"y":640},{"s":"G","x":1115,"y":690},{"s":"G","x":605,"y":730},{"s":"G","x":415,"y":565},{"s":"G","x":283,"y":465},{"s":"G","x":194,"y":295},{"s":"G","x":154,"y":200},{"s":"G","x":133,"y":118},{"s":"G","x":126,"y":70},{"s":"G","x":158,"y":58},{"s":"G","x":355,"y":58},{"s":"G","x":760,"y":65},{"s":"G","x":2270,"y":85},
{"s":"G","p":2,"x":760,"y":187},{"s":"G","p":2,"x":520,"y":180},{"s":"G","p":2,"x":385,"y":165},{"s":"G","p":2,"x":283,"y":144},{"s":"G","p":2,"x":258,"y":110},{"s":"G","p":2,"x":283,"y":89},{"s":"G","p":2,"x":415,"y":82},{"s":"G","p":2,"x":820,"y":107},{"s":"G","p":2,"x":1075,"y":118},{"s":"G","p":2,"x":885,"y":135},{"s":"G","p":2,"x":760,"y":187},
{"s":"g","x":2270,"y":335},{"s":"g","x":1115,"y":490},{"s":"g","x":820,"y":530},{"s":"g","x":520,"y":530},{"s":"g","x":355,"y":405},{"s":"g","x":243,"y":295},{"s":"g","x":187,"y":200},{"s":"g","x":148,"y":118},{"s":"g","x":135,"y":85},{"s":"g","x":158,"y":68},{"s":"g","x":283,"y":62},{"s":"g","x":760,"y":68},{"s":"g","x":2270,"y":85},
{"s":"Y","x":2270,"y":275},{"s":"Y","x":1510,"y":355},{"s":"Y","x":1115,"y":425},{"s":"Y","x":705,"y":345},{"s":"Y","x":447,"y":275},{"s":"Y","x":306,"y":213},{"s":"Y","x":249,"y":144},{"s":"Y","x":235,"y":104},{"s":"Y","x":284,"y":80},{"s":"Y","x":415,"y":75},{"s":"Y","x":760,"y":80},{"s":"Y","x":1510,"y":98},{"s":"Y","x":2270,"y":118},
{"s":"y","x":2270,"y":259},{"s":"y","x":1115,"y":345},{"s":"y","x":705,"y":315},{"s":"y","x":447,"y":260},{"s":"y","x":330,"y":200},{"s":"y","x":262,"y":135},{"s":"y","x":244,"y":104},{"s":"y","x":306,"y":82},{"s":"y","x":760,"y":82},{"s":"y","x":2270,"y":118}],
"P32":[{"s":"L","x":2270,"y":450},{"s":"L","x":1760,"y":610},{"s":"L","x":1200,"y":790},{"s":"L","x":652,"y":880},{"s":"L","x":306,"y":900},{"s":"L","x":145,"y":815},{"s":"L","x":118,"y":580},{"s":"L","x":86,"y":345},{"s":"L","x":77,"y":205},{"s":"L","x":64,"y":97},{"s":"L","x":66,"y":52},{"s":"L","x":92,"y":42},{"s":"L","x":143,"y":40},{"s":"L","x":306,"y":54},{"s":"L","x":652,"y":73},{"s":"L","x":2270,"y":145},
{"s":"D","x":1115,"y":212},{"s":"D","x":705,"y":303},{"s":"D","x":483,"y":275},{"s":"D","x":415,"y":345},{"s":"D","x":370,"y":373},{"s":"D","x":283,"y":315},{"s":"D","x":226,"y":260},{"s":"D","x":180,"y":200},{"s":"D","x":166,"y":154},{"s":"D","x":146,"y":110},{"s":"D","x":180,"y":85},{"s":"D","x":306,"y":85},{"s":"D","x":560,"y":104},{"s":"D","x":760,"y":144},{"s":"D","x":1115,"y":212},
{"s":"K","x":2270,"y":440},{"s":"K","x":1760,"y":600},{"s":"K","x":1200,"y":780},{"s":"K","x":652,"y":870},{"s":"K","x":306,"y":890},{"s":"K","x":148,"y":800},{"s":"K","x":122,"y":565},{"s":"K","x":90,"y":335},{"s":"K","x":81,"y":200},{"s":"K","x":69,"y":100},{"s":"K","x":72,"y":58},{"s":"K","x":98,"y":47},{"s":"K","x":143,"y":45},{"s":"K","x":306,"y":58},{"s":"K","x":652,"y":75},{"s":"K","x":2270,"y":148},
{"s":"K","p":2,"x":925,"y":212},{"s":"K","p":2,"x":705,"y":295},{"s":"K","p":2,"x":355,"y":323},{"s":"K","p":2,"x":283,"y":303},{"s":"K","p":2,"x":226,"y":245},{"s":"K","p":2,"x":180,"y":187},{"s":"K","p":2,"x":180,"y":87},{"s":"K","p":2,"x":306,"y":82},{"s":"K","p":2,"x":560,"y":107},{"s":"K","p":2,"x":925,"y":212},
{"s":"k","x":2270,"y":405},{"s":"k","x":1200,"y":730},{"s":"k","x":652,"y":780},{"s":"k","x":263,"y":780},{"s":"k","x":202,"y":510},{"s":"k","x":172,"y":440},{"s":"k","x":143,"y":565},{"s":"k","x":133,"y":465},{"s":"k","x":148,"y":405},{"s":"k","x":122,"y":228},{"s":"k","x":109,"y":135},{"s":"k","x":114,"y":80},{"s":"k","x":148,"y":66},{"s":"k","x":306,"y":66},{"s":"k","x":652,"y":85},{"s":"k","x":2270,"y":153},
{"s":"B","x":2270,"y":445},{"s":"B","x":1760,"y":630},{"s":"B","x":1115,"y":800},{"s":"B","x":652,"y":870},{"s":"B","x":263,"y":800},{"s":"B","x":166,"y":710},{"s":"B","x":133,"y":490},{"s":"B","x":106,"y":295},{"s":"B","x":94,"y":175},{"s":"B","x":81,"y":90},{"s":"B","x":87,"y":58},{"s":"B","x":114,"y":49},{"s":"B","x":180,"y":49},{"s":"B","x":355,"y":61},{"s":"B","x":760,"y":80},{"s":"B","x":2270,"y":150},
{"s":"B","p":2,"x":1115,"y":212},{"s":"B","p":2,"x":735,"y":303},{"s":"B","p":2,"x":483,"y":275},{"s":"B","p":2,"x":306,"y":275},{"s":"B","p":2,"x":226,"y":228},{"s":"B","p":2,"x":166,"y":154},{"s":"B","p":2,"x":160,"y":97},{"s":"B","p":2,"x":209,"y":85},{"s":"B","p":2,"x":355,"y":104},{"s":"B","p":2,"x":652,"y":165},{"s":"B","p":2,"x":1115,"y":212},
{"s":"b","x":2270,"y":380},{"s":"b","x":1200,"y":690},{"s":"b","x":652,"y":750},{"s":"b","x":263,"y":710},{"s":"b","x":226,"y":490},{"s":"b","x":194,"y":335},{"s":"b","x":158,"y":228},{"s":"b","x":146,"y":135},{"s":"b","x":146,"y":80},{"s":"b","x":306,"y":70},{"s":"b","x":2270,"y":153},
{"s":"G","x":2270,"y":380},{"s":"G","x":1400,"y":640},{"s":"G","x":1030,"y":735},{"s":"G","x":605,"y":780},{"s":"G","x":306,"y":780},{"s":"G","x":226,"y":605},{"s":"G","x":184,"y":440},{"s":"G","x":158,"y":295},{"s":"G","x":146,"y":175},{"s":"G","x":135,"y":97},{"s":"G","x":154,"y":70},{"s":"G","x":306,"y":70},{"s":"G","x":652,"y":91},{"s":"G","x":2270,"y":153},
{"s":"g","x":2270,"y":315},{"s":"g","x":1400,"y":530},{"s":"g","x":885,"y":690},{"s":"g","x":560,"y":730},{"s":"g","x":385,"y":640},{"s":"g","x":283,"y":490},{"s":"g","x":209,"y":335},{"s":"g","x":166,"y":200},{"s":"g","x":148,"y":118},{"s":"g","x":166,"y":80},{"s":"g","x":306,"y":80},{"s":"g","x":652,"y":98},{"s":"g","x":2270,"y":153},
{"s":"Y","x":1900,"y":228},{"s":"Y","x":1700,"y":295},{"s":"Y","x":1115,"y":373},{"s":"Y","x":652,"y":335},{"s":"Y","x":415,"y":260},{"s":"Y","x":320,"y":175},{"s":"Y","x":320,"y":127},{"s":"Y","x":415,"y":111},{"s":"Y","x":652,"y":127},{"s":"Y","x":1030,"y":165},{"s":"Y","x":1700,"y":195},{"s":"Y","x":1900,"y":228},
{"s":"y","x":1900,"y":212},{"s":"y","x":1200,"y":335},{"s":"y","x":652,"y":303},{"s":"y","x":415,"y":228},{"s":"y","x":345,"y":165},{"s":"y","x":355,"y":127},{"s":"y","x":652,"y":135},{"s":"y","x":1760,"y":200},{"s":"y","x":1900,"y":212}],
"P33":[{"s":"L","x":2270,"y":275},{"s":"L","x":2000,"y":495},{"s":"L","x":1100,"y":785},{"s":"L","x":595,"y":950},{"s":"L","x":205,"y":990},{"s":"L","x":141,"y":890},{"s":"L","x":100,"y":565},{"s":"L","x":77,"y":295},{"s":"L","x":61,"y":153},{"s":"L","x":57,"y":80},{"s":"L","x":64,"y":58},{"s":"L","x":80,"y":51},{"s":"L","x":191,"y":62},{"s":"L","x":408,"y":70},{"s":"L","x":873,"y":91},{"s":"L","x":1730,"y":126},{"s":"L","x":2270,"y":275},
{"s":"D","x":750,"y":275},{"s":"D","x":635,"y":392},{"s":"D","x":475,"y":465},{"s":"D","x":350,"y":435},{"s":"D","x":279,"y":355},{"s":"D","x":269,"y":405},{"s":"D","x":214,"y":315},{"s":"D","x":177,"y":295},{"s":"D","x":130,"y":212},{"s":"D","x":121,"y":154},{"s":"D","x":130,"y":97},{"s":"D","x":177,"y":110},{"s":"D","x":279,"y":110},{"s":"D","x":475,"y":144},{"s":"D","x":700,"y":200},{"s":"D","x":750,"y":275},
{"s":"K","x":2130,"y":275},{"s":"K","x":1800,"y":495},{"s":"K","x":1100,"y":785},{"s":"K","x":595,"y":890},{"s":"K","x":279,"y":950},{"s":"K","x":141,"y":890},{"s":"K","x":112,"y":605},{"s":"K","x":89,"y":335},{"s":"K","x":83,"y":164},{"s":"K","x":80,"y":91},{"s":"K","x":96,"y":66},{"s":"K","x":191,"y":63},{"s":"K","x":408,"y":75},{"s":"K","x":1015,"y":104},{"s":"K","x":1800,"y":164},{"s":"K","x":2130,"y":275},
{"s":"K","p":2,"x":720,"y":315},{"s":"K","p":2,"x":635,"y":380},{"s":"K","p":2,"x":475,"y":435},{"s":"K","p":2,"x":350,"y":405},{"s":"K","p":2,"x":279,"y":315},{"s":"K","p":2,"x":214,"y":243},{"s":"K","p":2,"x":191,"y":200},{"s":"K","p":2,"x":198,"y":164},{"s":"K","p":2,"x":184,"y":118},{"s":"K","p":2,"x":279,"y":110},{"s":"K","p":2,"x":441,"y":135},{"s":"K","p":2,"x":635,"y":200},{"s":"K","p":2,"x":720,"y":228},{"s":"K","p":2,"x":720,"y":315},
{"s":"k","x":1830,"y":275},{"s":"k","x":1600,"y":465},{"s":"k","x":1015,"y":690},{"s":"k","x":595,"y":780},{"s":"k","x":205,"y":780},{"s":"k","x":191,"y":690},{"s":"k","x":170,"y":335},{"s":"k","x":146,"y":380},{"s":"k","x":135,"y":315},{"s":"k","x":146,"y":260},{"s":"k","x":126,"y":175},{"s":"k","x":130,"y":118},{"s":"k","x":170,"y":85},{"s":"k","x":325,"y":91},{"s":"k","x":815,"y":111},{"s":"k","x":1480,"y":164},{"s":"k","x":1830,"y":275},
{"s":"k","p":2,"x":392,"y":295},{"s":"k","p":2,"x":350,"y":275},{"s":"k","p":2,"x":378,"y":200},{"s":"k","p":2,"x":424,"y":228},{"s":"k","p":2,"x":392,"y":295},
{"s":"B","x":2100,"y":275},{"s":"B","x":1730,"y":495},{"s":"B","x":1015,"y":785},{"s":"B","x":553,"y":890},{"s":"B","x":177,"y":830},{"s":"B","x":130,"y":565},{"s":"B","x":108,"y":295},{"s":"B","x":100,"y":154},{"s":"B","x":108,"y":97},{"s":"B","x":141,"y":80},{"s":"B","x":279,"y":80},{"s":"B","x":595,"y":91},{"s":"B","x":1100,"y":111},{"s":"B","x":1800,"y":176},{"s":"B","x":2100,"y":275},
{"s":"B","p":2,"x":700,"y":228},{"s":"B","p":2,"x":595,"y":335},{"s":"B","p":2,"x":475,"y":392},{"s":"B","p":2,"x":350,"y":360},{"s":"B","p":2,"x":279,"y":228},{"s":"B","p":2,"x":222,"y":187},{"s":"B","p":2,"x":214,"y":164},{"s":"B","p":2,"x":279,"y":154},{"s":"B","p":2,"x":378,"y":164},{"s":"B","p":2,"x":510,"y":205},{"s":"B","p":2,"x":700,"y":228},
{"s":"G","x":1730,"y":335},{"s":"G","x":1380,"y":435},{"s":"G","x":1015,"y":630},{"s":"G","x":700,"y":780},{"s":"G","x":408,"y":830},{"s":"G","x":279,"y":780},{"s":"G","x":222,"y":565},{"s":"G","x":184,"y":335},{"s":"G","x":170,"y":200},{"s":"G","x":177,"y":127},{"s":"G","x":222,"y":107},{"s":"G","x":475,"y":107},{"s":"G","x":940,"y":118},{"s":"G","x":1280,"y":187},{"s":"G","x":1800,"y":243},{"s":"G","x":1730,"y":335},
{"s":"g","x":1380,"y":355},{"s":"g","x":940,"y":495},{"s":"g","x":553,"y":730},{"s":"g","x":350,"y":605},{"s":"g","x":279,"y":385},{"s":"g","x":258,"y":260},{"s":"g","x":269,"y":144},{"s":"g","x":350,"y":127},{"s":"g","x":700,"y":144},{"s":"g","x":1180,"y":200},{"s":"g","x":1380,"y":355}],
"P34":[{"s":"L","x":2230,"y":164},{"s":"L","x":2130,"y":295},{"s":"L","x":1360,"y":640},{"s":"L","x":860,"y":990},{"s":"L","x":188,"y":990},{"s":"L","x":102,"y":790},{"s":"L","x":75,"y":380},{"s":"L","x":60,"y":176},{"s":"L","x":57,"y":97},{"s":"L","x":65,"y":68},{"s":"L","x":110,"y":62},{"s":"L","x":236,"y":80},{"s":"L","x":505,"y":104},{"s":"L","x":1075,"y":135},{"s":"L","x":2230,"y":164},
{"s":"D","x":925,"y":380},{"s":"D","x":735,"y":495},{"s":"D","x":545,"y":630},{"s":"D","x":430,"y":780},{"s":"D","x":297,"y":690},{"s":"D","x":255,"y":530},{"s":"D","x":162,"y":380},{"s":"D","x":144,"y":243},{"s":"D","x":119,"y":200},{"s":"D","x":129,"y":165},{"s":"D","x":162,"y":117},{"s":"D","x":202,"y":148},{"s":"D","x":297,"y":165},{"s":"D","x":545,"y":175},{"s":"D","x":655,"y":228},{"s":"D","x":925,"y":380},
{"s":"K","x":1780,"y":265},{"s":"K","x":1520,"y":380},{"s":"K","x":1000,"y":640},{"s":"K","x":735,"y":890},{"s":"K","x":470,"y":985},{"s":"K","x":275,"y":950},{"s":"K","x":202,"y":780},{"s":"K","x":162,"y":440},{"s":"K","x":144,"y":228},{"s":"K","x":138,"y":164},{"s":"K","x":174,"y":127},{"s":"K","x":297,"y":122},{"s":"K","x":545,"y":132},{"s":"K","x":1000,"y":175},{"s":"K","x":1780,"y":265},
{"s":"K","p":2,"x":400,"y":360},{"s":"K","p":2,"x":505,"y":335},{"s":"K","p":2,"x":435,"y":315},{"s":"K","p":2,"x":372,"y":212},{"s":"K","p":2,"x":355,"y":260},{"s":"K","p":2,"x":400,"y":360},
{"s":"k","x":1580,"y":275},{"s":"k","x":1470,"y":360},{"s":"k","x":1000,"y":565},{"s":"k","x":735,"y":780},{"s":"k","x":505,"y":830},{"s":"k","x":400,"y":890},{"s":"k","x":275,"y":690},{"s":"k","x":245,"y":380},{"s":"k","x":245,"y":260},{"s":"k","x":235,"y":212},{"s":"k","x":275,"y":165},{"s":"k","x":400,"y":148},{"s":"k","x":735,"y":165},{"s":"k","x":1170,"y":212},{"s":"k","x":1580,"y":275},
{"s":"B","x":1730,"y":265},{"s":"B","x":1470,"y":380},{"s":"B","x":1000,"y":605},{"s":"B","x":735,"y":870},{"s":"B","x":470,"y":920},{"s":"B","x":297,"y":890},{"s":"B","x":220,"y":690},{"s":"B","x":180,"y":380},{"s":"B","x":168,"y":212},{"s":"B","x":180,"y":144},{"s":"B","x":255,"y":122},{"s":"B","x":505,"y":132},{"s":"B","x":1000,"y":170},{"s":"B","x":1730,"y":265},
{"s":"G","x":1210,"y":265},{"s":"G","x":925,"y":405},{"s":"G","x":735,"y":605},{"s":"G","x":545,"y":780},{"s":"G","x":430,"y":780},{"s":"G","x":320,"y":640},{"s":"G","x":265,"y":380},{"s":"G","x":252,"y":260},{"s":"G","x":285,"y":187},{"s":"G","x":400,"y":154},{"s":"G","x":690,"y":170},{"s":"G","x":1000,"y":212},{"s":"G","x":1210,"y":265},
{"s":"g","x":1210,"y":265},{"s":"g","x":1000,"y":360},{"s":"g","x":735,"y":530},{"s":"g","x":565,"y":630},{"s":"g","x":505,"y":530},{"s":"g","x":415,"y":495},{"s":"g","x":355,"y":380},{"s":"g","x":355,"y":212},{"s":"g","x":545,"y":200},{"s":"g","x":1000,"y":243},{"s":"g","x":1210,"y":265}]
},
"columns":4,"spacing":{"row":10,"column":12.3},"bounds":"flush","concat":[
{"width":178,"height":98.6,"title":{"text":"y⁺ = 15","offset":1},"data":{"name":"P11"},"transform":[{"window":[{"op":"row_number","as":"i"}]}],"encoding":{"x":{"field":"x","type":"quantitative","scale":{"type":"log","domain":[39.3,2270]},"axis":{"title":null,"labels":false,"tickSize":{"condition":{"test":"datum.value==100||datum.value==1000","value":-5},"value":-2.5}}},"y":{"field":"y","type":"quantitative","scale":{"type":"log","domain":[21,1000]},"axis":{"title":"λ⁺","titlePadding":5,"labelPadding":11.5,"labelExpr":"datum.value==100?'10²':datum.value==1000?'10³':''","tickSize":{"condition":{"test":"datum.value==100||datum.value==1000","value":-5},"value":-3}}}},"layer":[{"transform":[{"filter":"datum.s=='L'"}],"mark":{"type":"line","fill":"#ccc","stroke":null,"clip":true},"encoding":{"order":{"field":"i"}}},{"transform":[{"filter":"datum.s=='D'"}],"mark":{"type":"line","fill":"#575757","stroke":null,"clip":true},"encoding":{"order":{"field":"i"}}},{"transform":[{"filter":"datum.s!='L'&&datum.s!='D'"}],"mark":{"type":"line","strokeWidth":1.6,"clip":true},"encoding":{"order":{"field":"i"},"detail":{"field":"p"},"color":{"field":"s","legend":null,"scale":{"domain":["K","k","B","b","G","g","Y","y"],"range":["black","black","#31688e","#31688e","#35b779","#35b779","#fde725","#fde725"]}},"strokeDash":{"field":"s","legend":null,"scale":{"domain":["K","k","B","b","G","g","Y","y"],"range":[[1,0],[4,2],[1,0],[4,2],[1,0],[4,2],[1,0],[4,2]]}}}},{"data":{"name":"Z"},"mark":{"type":"text","angle":270,"fontSize":9},"encoding":{"text":{"field":"t"}}}]},
{"width":178,"height":98.6,"title":{"text":"y⁺ = 30","offset":7},"data":{"name":"P12"},"transform":[{"window":[{"op":"row_number","as":"i"}]}],"encoding":{"x":{"field":"x","type":"quantitative","scale":{"type":"log","domain":[39.3,2270]},"axis":{"title":null,"labels":false,"tickSize":{"condition":{"test":"datum.value==100||datum.value==1000","value":-5},"value":-2.5}}},"y":{"field":"y","type":"quantitative","scale":{"type":"log","domain":[21,1000]},"axis":{"title":null,"labels":false,"tickSize":{"condition":{"test":"datum.value==100||datum.value==1000","value":-5},"value":-3}}}},"layer":[{"transform":[{"filter":"datum.s=='L'"}],"mark":{"type":"line","fill":"#ccc","stroke":null,"clip":true},"encoding":{"order":{"field":"i"}}},{"transform":[{"filter":"datum.s=='D'"}],"mark":{"type":"line","fill":"#575757","stroke":null,"clip":true},"encoding":{"order":{"field":"i"}}},{"transform":[{"filter":"datum.s!='L'&&datum.s!='D'"}],"mark":{"type":"line","strokeWidth":1.6,"clip":true},"encoding":{"order":{"field":"i"},"detail":{"field":"p"},"color":{"field":"s","legend":null,"scale":{"domain":["K","k","B","b","G","g","Y","y"],"range":["black","black","#31688e","#31688e","#35b779","#35b779","#fde725","#fde725"]}},"strokeDash":{"field":"s","legend":null,"scale":{"domain":["K","k","B","b","G","g","Y","y"],"range":[[1,0],[4,2],[1,0],[4,2],[1,0],[4,2],[1,0],[4,2]]}}}}]},
{"width":178,"height":98.6,"title":{"text":"y⁺ = 50","offset":7},"data":{"name":"P13"},"transform":[{"window":[{"op":"row_number","as":"i"}]}],"encoding":{"x":{"field":"x","type":"quantitative","scale":{"type":"log","domain":[39.3,2270]},"axis":{"title":null,"labels":false,"tickSize":{"condition":{"test":"datum.value==100||datum.value==1000","value":-5},"value":-2.5}}},"y":{"field":"y","type":"quantitative","scale":{"type":"log","domain":[21,1000]},"axis":{"title":null,"labels":false,"tickSize":{"condition":{"test":"datum.value==100||datum.value==1000","value":-5},"value":-3}}}},"layer":[{"transform":[{"filter":"datum.s=='L'"}],"mark":{"type":"line","fill":"#ccc","stroke":null,"clip":true},"encoding":{"order":{"field":"i"}}},{"transform":[{"filter":"datum.s=='D'"}],"mark":{"type":"line","fill":"#575757","stroke":null,"clip":true},"encoding":{"order":{"field":"i"}}},{"transform":[{"filter":"datum.s!='L'&&datum.s!='D'"}],"mark":{"type":"line","strokeWidth":1.6,"clip":true},"encoding":{"order":{"field":"i"},"detail":{"field":"p"},"color":{"field":"s","legend":null,"scale":{"domain":["K","k","B","b","G","g","Y","y"],"range":["black","black","#31688e","#31688e","#35b779","#35b779","#fde725","#fde725"]}},"strokeDash":{"field":"s","legend":null,"scale":{"domain":["K","k","B","b","G","g","Y","y"],"range":[[1,0],[4,2],[1,0],[4,2],[1,0],[4,2],[1,0],[4,2]]}}}}]},
{"width":178,"height":98.6,"title":{"text":"y⁺ = 100","offset":7},"data":{"name":"P14"},"transform":[{"window":[{"op":"row_number","as":"i"}]}],"encoding":{"x":{"field":"x","type":"quantitative","scale":{"type":"log","domain":[39.3,2270]},"axis":{"title":null,"labels":false,"tickSize":{"condition":{"test":"datum.value==100||datum.value==1000","value":-5},"value":-2.5}}},"y":{"field":"y","type":"quantitative","scale":{"type":"log","domain":[21,1000]},"axis":{"title":null,"labels":false,"tickSize":{"condition":{"test":"datum.value==100||datum.value==1000","value":-5},"value":-3}}}},"layer":[{"transform":[{"filter":"datum.s=='L'"}],"mark":{"type":"line","fill":"#ccc","stroke":null,"clip":true},"encoding":{"order":{"field":"i"}}},{"transform":[{"filter":"datum.s=='D'"}],"mark":{"type":"line","fill":"#575757","stroke":null,"clip":true},"encoding":{"order":{"field":"i"}}},{"transform":[{"filter":"datum.s!='L'&&datum.s!='D'"}],"mark":{"type":"line","strokeWidth":1.6,"clip":true},"encoding":{"order":{"field":"i"},"detail":{"field":"p"},"color":{"field":"s","legend":null,"scale":{"domain":["K","k","B","b","G","g","Y","y"],"range":["black","black","#31688e","#31688e","#35b779","#35b779","#fde725","#fde725"]}},"strokeDash":{"field":"s","legend":null,"scale":{"domain":["K","k","B","b","G","g","Y","y"],"range":[[1,0],[4,2],[1,0],[4,2],[1,0],[4,2],[1,0],[4,2]]}}}},{"data":{"name":"RU"},"mark":{"type":"text","angle":270},"encoding":{"text":{"field":"t"},"size":{"field":"b","legend":null,"scale":{"domain":["m","s"],"range":[14,10]}}}}]},
{"width":178,"height":98.6,"data":{"name":"P21"},"transform":[{"window":[{"op":"row_number","as":"i"}]}],"encoding":{"x":{"field":"x","type":"quantitative","scale":{"type":"log","domain":[39.3,2270]},"axis":{"title":null,"labels":false,"tickSize":{"condition":{"test":"datum.value==100||datum.value==1000","value":-5},"value":-2.5}}},"y":{"field":"y","type":"quantitative","scale":{"type":"log","domain":[21,1000]},"axis":{"title":"λ⁺","titlePadding":5,"labelPadding":11.5,"labelExpr":"datum.value==100?'10²':datum.value==1000?'10³':''","tickSize":{"condition":{"test":"datum.value==100||datum.value==1000","value":-5},"value":-3}}}},"layer":[{"transform":[{"filter":"datum.s=='L'"}],"mark":{"type":"line","fill":"#ccc","stroke":null,"clip":true},"encoding":{"order":{"field":"i"}}},{"transform":[{"filter":"datum.s=='D'"}],"mark":{"type":"line","fill":"#575757","stroke":null,"clip":true},"encoding":{"order":{"field":"i"}}},{"transform":[{"filter":"datum.s!='L'&&datum.s!='D'"}],"mark":{"type":"line","strokeWidth":1.6,"clip":true},"encoding":{"order":{"field":"i"},"detail":{"field":"p"},"color":{"field":"s","legend":null,"scale":{"domain":["K","k","B","b","G","g","Y","y"],"range":["black","black","#31688e","#31688e","#35b779","#35b779","#fde725","#fde725"]}},"strokeDash":{"field":"s","legend":null,"scale":{"domain":["K","k","B","b","G","g","Y","y"],"range":[[1,0],[4,2],[1,0],[4,2],[1,0],[4,2],[1,0],[4,2]]}}}},{"data":{"name":"Z"},"mark":{"type":"text","angle":270,"fontSize":9},"encoding":{"text":{"field":"t"}}}]},
{"width":178,"height":98.6,"data":{"name":"P22"},"transform":[{"window":[{"op":"row_number","as":"i"}]}],"encoding":{"x":{"field":"x","type":"quantitative","scale":{"type":"log","domain":[39.3,2270]},"axis":{"title":null,"labels":false,"tickSize":{"condition":{"test":"datum.value==100||datum.value==1000","value":-5},"value":-2.5}}},"y":{"field":"y","type":"quantitative","scale":{"type":"log","domain":[21,1000]},"axis":{"title":null,"labels":false,"tickSize":{"condition":{"test":"datum.value==100||datum.value==1000","value":-5},"value":-3}}}},"layer":[{"transform":[{"filter":"datum.s=='L'"}],"mark":{"type":"line","fill":"#ccc","stroke":null,"clip":true},"encoding":{"order":{"field":"i"}}},{"transform":[{"filter":"datum.s=='D'"}],"mark":{"type":"line","fill":"#575757","stroke":null,"clip":true},"encoding":{"order":{"field":"i"}}},{"transform":[{"filter":"datum.s!='L'&&datum.s!='D'"}],"mark":{"type":"line","strokeWidth":1.6,"clip":true},"encoding":{"order":{"field":"i"},"detail":{"field":"p"},"color":{"field":"s","legend":null,"scale":{"domain":["K","k","B","b","G","g","Y","y"],"range":["black","black","#31688e","#31688e","#35b779","#35b779","#fde725","#fde725"]}},"strokeDash":{"field":"s","legend":null,"scale":{"domain":["K","k","B","b","G","g","Y","y"],"range":[[1,0],[4,2],[1,0],[4,2],[1,0],[4,2],[1,0],[4,2]]}}}}]},
{"width":178,"height":98.6,"data":{"name":"P23"},"transform":[{"window":[{"op":"row_number","as":"i"}]}],"encoding":{"x":{"field":"x","type":"quantitative","scale":{"type":"log","domain":[39.3,2270]},"axis":{"title":null,"labels":false,"tickSize":{"condition":{"test":"datum.value==100||datum.value==1000","value":-5},"value":-2.5}}},"y":{"field":"y","type":"quantitative","scale":{"type":"log","domain":[21,1000]},"axis":{"title":null,"labels":false,"tickSize":{"condition":{"test":"datum.value==100||datum.value==1000","value":-5},"value":-3}}}},"layer":[{"transform":[{"filter":"datum.s=='L'"}],"mark":{"type":"line","fill":"#ccc","stroke":null,"clip":true},"encoding":{"order":{"field":"i"}}},{"transform":[{"filter":"datum.s=='D'"}],"mark":{"type":"line","fill":"#575757","stroke":null,"clip":true},"encoding":{"order":{"field":"i"}}},{"transform":[{"filter":"datum.s!='L'&&datum.s!='D'"}],"mark":{"type":"line","strokeWidth":1.6,"clip":true},"encoding":{"order":{"field":"i"},"detail":{"field":"p"},"color":{"field":"s","legend":null,"scale":{"domain":["K","k","B","b","G","g","Y","y"],"range":["black","black","#31688e","#31688e","#35b779","#35b779","#fde725","#fde725"]}},"strokeDash":{"field":"s","legend":null,"scale":{"domain":["K","k","B","b","G","g","Y","y"],"range":[[1,0],[4,2],[1,0],[4,2],[1,0],[4,2],[1,0],[4,2]]}}}}]},
{"width":178,"height":98.6,"data":{"name":"P24"},"transform":[{"window":[{"op":"row_number","as":"i"}]}],"encoding":{"x":{"field":"x","type":"quantitative","scale":{"type":"log","domain":[39.3,2270]},"axis":{"title":null,"labels":false,"tickSize":{"condition":{"test":"datum.value==100||datum.value==1000","value":-5},"value":-2.5}}},"y":{"field":"y","type":"quantitative","scale":{"type":"log","domain":[21,1000]},"axis":{"title":null,"labels":false,"tickSize":{"condition":{"test":"datum.value==100||datum.value==1000","value":-5},"value":-3}}}},"layer":[{"transform":[{"filter":"datum.s=='L'"}],"mark":{"type":"line","fill":"#ccc","stroke":null,"clip":true},"encoding":{"order":{"field":"i"}}},{"transform":[{"filter":"datum.s=='D'"}],"mark":{"type":"line","fill":"#575757","stroke":null,"clip":true},"encoding":{"order":{"field":"i"}}},{"transform":[{"filter":"datum.s!='L'&&datum.s!='D'"}],"mark":{"type":"line","strokeWidth":1.6,"clip":true},"encoding":{"order":{"field":"i"},"detail":{"field":"p"},"color":{"field":"s","legend":null,"scale":{"domain":["K","k","B","b","G","g","Y","y"],"range":["black","black","#31688e","#31688e","#35b779","#35b779","#fde725","#fde725"]}},"strokeDash":{"field":"s","legend":null,"scale":{"domain":["K","k","B","b","G","g","Y","y"],"range":[[1,0],[4,2],[1,0],[4,2],[1,0],[4,2],[1,0],[4,2]]}}}},{"data":{"name":"RV"},"mark":{"type":"text","angle":270},"encoding":{"text":{"field":"t"},"size":{"field":"b","legend":null,"scale":{"domain":["m","s"],"range":[14,10]}}}}]},
{"width":178,"height":98.6,"data":{"name":"P31"},"transform":[{"window":[{"op":"row_number","as":"i"}]}],"encoding":{"x":{"field":"x","type":"quantitative","scale":{"type":"log","domain":[39.3,2270]},"axis":{"title":"λₓ⁺","titleFontSize":16,"titlePadding":-6,"labelPadding":10,"labelExpr":"datum.value==100?'10²':datum.value==1000?'10³':''","tickSize":{"condition":{"test":"datum.value==100||datum.value==1000","value":-5},"value":-2.5}}},"y":{"field":"y","type":"quantitative","scale":{"type":"log","domain":[21,1000]},"axis":{"title":"λ⁺","titlePadding":5,"labelPadding":11.5,"labelExpr":"datum.value==100?'10²':datum.value==1000?'10³':''","tickSize":{"condition":{"test":"datum.value==100||datum.value==1000","value":-5},"value":-3}}}},"layer":[{"transform":[{"filter":"datum.s=='L'"}],"mark":{"type":"line","fill":"#ccc","stroke":null,"clip":true},"encoding":{"order":{"field":"i"}}},{"transform":[{"filter":"datum.s=='D'"}],"mark":{"type":"line","fill":"#575757","stroke":null,"clip":true},"encoding":{"order":{"field":"i"}}},{"transform":[{"filter":"datum.s!='L'&&datum.s!='D'"}],"mark":{"type":"line","strokeWidth":1.6,"clip":true},"encoding":{"order":{"field":"i"},"detail":{"field":"p"},"color":{"field":"s","legend":null,"scale":{"domain":["K","k","B","b","G","g","Y","y"],"range":["black","black","#31688e","#31688e","#35b779","#35b779","#fde725","#fde725"]}},"strokeDash":{"field":"s","legend":null,"scale":{"domain":["K","k","B","b","G","g","Y","y"],"range":[[1,0],[4,2],[1,0],[4,2],[1,0],[4,2],[1,0],[4,2]]}}}},{"data":{"name":"Z"},"mark":{"type":"text","angle":270,"fontSize":9},"encoding":{"text":{"field":"t"}}}]},
{"width":178,"height":98.6,"data":{"name":"P32"},"transform":[{"window":[{"op":"row_number","as":"i"}]}],"encoding":{"x":{"field":"x","type":"quantitative","scale":{"type":"log","domain":[39.3,2270]},"axis":{"title":"λₓ⁺","titleFontSize":16,"titlePadding":-6,"labelPadding":10,"labelExpr":"datum.value==100?'10²':datum.value==1000?'10³':''","tickSize":{"condition":{"test":"datum.value==100||datum.value==1000","value":-5},"value":-2.5}}},"y":{"field":"y","type":"quantitative","scale":{"type":"log","domain":[21,1000]},"axis":{"title":null,"labels":false,"tickSize":{"condition":{"test":"datum.value==100||datum.value==1000","value":-5},"value":-3}}}},"layer":[{"transform":[{"filter":"datum.s=='L'"}],"mark":{"type":"line","fill":"#ccc","stroke":null,"clip":true},"encoding":{"order":{"field":"i"}}},{"transform":[{"filter":"datum.s=='D'"}],"mark":{"type":"line","fill":"#575757","stroke":null,"clip":true},"encoding":{"order":{"field":"i"}}},{"transform":[{"filter":"datum.s!='L'&&datum.s!='D'"}],"mark":{"type":"line","strokeWidth":1.6,"clip":true},"encoding":{"order":{"field":"i"},"detail":{"field":"p"},"color":{"field":"s","legend":null,"scale":{"domain":["K","k","B","b","G","g","Y","y"],"range":["black","black","#31688e","#31688e","#35b779","#35b779","#fde725","#fde725"]}},"strokeDash":{"field":"s","legend":null,"scale":{"domain":["K","k","B","b","G","g","Y","y"],"range":[[1,0],[4,2],[1,0],[4,2],[1,0],[4,2],[1,0],[4,2]]}}}}]},
{"width":178,"height":98.6,"data":{"name":"P33"},"transform":[{"window":[{"op":"row_number","as":"i"}]}],"encoding":{"x":{"field":"x","type":"quantitative","scale":{"type":"log","domain":[39.3,2270]},"axis":{"title":"λₓ⁺","titleFontSize":16,"titlePadding":-6,"labelPadding":10,"labelExpr":"datum.value==100?'10²':datum.value==1000?'10³':''","tickSize":{"condition":{"test":"datum.value==100||datum.value==1000","value":-5},"value":-2.5}}},"y":{"field":"y","type":"quantitative","scale":{"type":"log","domain":[21,1000]},"axis":{"title":null,"labels":false,"tickSize":{"condition":{"test":"datum.value==100||datum.value==1000","value":-5},"value":-3}}}},"layer":[{"transform":[{"filter":"datum.s=='L'"}],"mark":{"type":"line","fill":"#ccc","stroke":null,"clip":true},"encoding":{"order":{"field":"i"}}},{"transform":[{"filter":"datum.s=='D'"}],"mark":{"type":"line","fill":"#575757","stroke":null,"clip":true},"encoding":{"order":{"field":"i"}}},{"transform":[{"filter":"datum.s!='L'&&datum.s!='D'"}],"mark":{"type":"line","strokeWidth":1.6,"clip":true},"encoding":{"order":{"field":"i"},"detail":{"field":"p"},"color":{"field":"s","legend":null,"scale":{"domain":["K","k","B","b","G","g","Y","y"],"range":["black","black","#31688e","#31688e","#35b779","#35b779","#fde725","#fde725"]}},"strokeDash":{"field":"s","legend":null,"scale":{"domain":["K","k","B","b","G","g","Y","y"],"range":[[1,0],[4,2],[1,0],[4,2],[1,0],[4,2],[1,0],[4,2]]}}}}]},
{"width":178,"height":98.6,"data":{"name":"P34"},"transform":[{"window":[{"op":"row_number","as":"i"}]}],"encoding":{"x":{"field":"x","type":"quantitative","scale":{"type":"log","domain":[39.3,2270]},"axis":{"title":null,"labelPadding":10,"labelExpr":"datum.value==100?'10²':datum.value==1000?'10³':''","tickSize":{"condition":{"test":"datum.value==100||datum.value==1000","value":-5},"value":-2.5}}},"y":{"field":"y","type":"quantitative","scale":{"type":"log","domain":[21,1000]},"axis":{"title":null,"labels":false,"tickSize":{"condition":{"test":"datum.value==100||datum.value==1000","value":-5},"value":-3}}}},"layer":[{"transform":[{"filter":"datum.s=='L'"}],"mark":{"type":"line","fill":"#ccc","stroke":null,"clip":true},"encoding":{"order":{"field":"i"}}},{"transform":[{"filter":"datum.s=='D'"}],"mark":{"type":"line","fill":"#575757","stroke":null,"clip":true},"encoding":{"order":{"field":"i"}}},{"transform":[{"filter":"datum.s!='L'&&datum.s!='D'"}],"mark":{"type":"line","strokeWidth":1.6,"clip":true},"encoding":{"order":{"field":"i"},"detail":{"field":"p"},"color":{"field":"s","legend":null,"scale":{"domain":["K","k","B","b","G","g","Y","y"],"range":["black","black","#31688e","#31688e","#35b779","#35b779","#fde725","#fde725"]}},"strokeDash":{"field":"s","legend":null,"scale":{"domain":["K","k","B","b","G","g","Y","y"],"range":[[1,0],[4,2],[1,0],[4,2],[1,0],[4,2],[1,0],[4,2]]}}}},{"data":{"name":"RW"},"mark":{"type":"text","angle":270},"encoding":{"text":{"field":"t"},"size":{"field":"b","legend":null,"scale":{"domain":["m","s"],"range":[14,10]}}}}]}
]}
